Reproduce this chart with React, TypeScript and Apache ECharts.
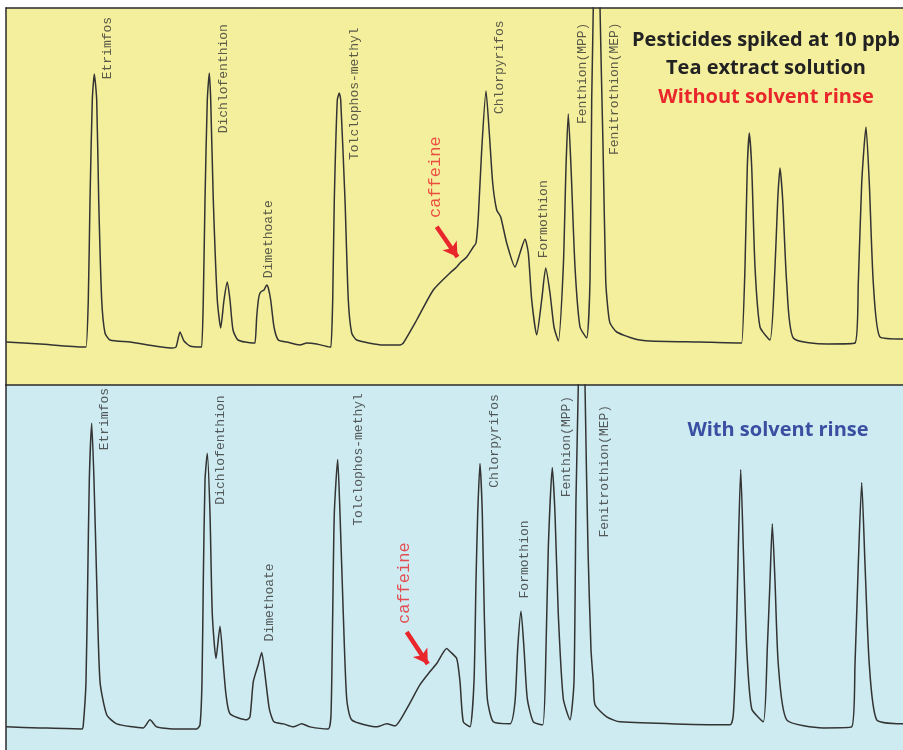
import React, { useEffect, useRef } from "react";
import * as echarts from "echarts";

// Retention position (x) and detector signal (y)
const topTrace: [number, number][] = [
  [6,43],[40,41],[84,38],
  [86,38],[88.3,85],[90,185],[92.3,285],[94.3,311],[96.7,285],[98.7,185],[101.7,85],[105,52],[110,45],[130,43],[172,37],
  [176,38],[180,53],[184,44],[190,39],[200,38],
  [201.7,38],[203.3,85],[205,185],[207.3,285],[209.3,312],[210.7,285],[213.3,185],[217.3,85],[220.7,57],[224,85],[227.3,103],[230,85],[233,55],[238,45],[253,42],
  [255,42],[256.7,68],[258.5,86],[260,92],[262,94],[264,95],[266.7,100],[268.3,97],[270.7,85],[274,58],[278.3,45],[286.7,43],[300,40],[306.7,42],[316.7,41],[330,38],
  [331,38],[332.7,85],[334.3,185],[337.3,285],[339.3,292],[340.7,285],[345,185],[348.3,85],[351.7,52],[356.7,45],[383.3,40],[400,40],
  [403.3,42],[416.7,65],[433.3,95],[450,112],[456.7,118],[460,122],[466.7,128],[473.3,138],[476,142],[478.3,168],[481.7,235],[486,294],[489.3,252],[492.7,202],[496.7,175],[500.7,168],[506.7,142],[515,118],[520,132],[525,146],[528.3,132],[531.7,85],[536.7,50],
  [541.7,85],[545.7,117],[550,92],[554,58],[558.3,44],
  [563.3,118],[566,218],[568.3,271],[571,218],[575,118],[580,58],[586.7,47],
  [590,105],[591.7,285],[593.3,378],[596.5,700],[600,378],[603,240],[605.7,105],[608,75],[610,62],[616.7,53],[635,46],[650,44],[700,43],[739,42],
  [741.7,42],[745,118],[747.3,218],[749.3,252],[751.7,218],[755,118],[760,58],[770,45],
  [775,118],[777.7,185],[780,217],[782.7,185],[786.7,102],[793.3,47],[826.7,41],[855,42],
  [858.3,102],[861.7,202],[866,258],[869.3,202],[873.3,102],[880,48],[903,46],
];

const bottomTrace: [number, number][] = [
  [6,23],[40,22],[82,21],
  [83.3,25],[86,68],[87.7,168],[89.3,268],[91.7,325],[94,268],[96.7,168],[100,68],[106.7,35],[116.7,26],[143.3,22],
  [150,30],[156.7,23],[173.3,21],[196.7,21],
  [200,25],[202,68],[203.3,168],[205,268],[207.3,295],[210,235],[212.3,135],[216,91],[220,123],[223.3,85],[226,55],[230,36],[246.7,30],
  [250,33],[253.3,68],[258.3,85],[261.7,97],[265,75],[269.3,41],[274,28],[283.3,26],[293.3,23],[301.7,26],[310,23],[328.3,21],
  [331,35],[332.7,135],[334.3,235],[337.7,289],[340,235],[343.3,135],[346.7,51],[351.7,30],[376.7,23],[386.7,26],[395,24],
  [406.7,41],[420,65],[430,78],[436.7,86],[446.7,101],[450,98],[456.7,91],[460,68],[463.3,28],[470,23],
  [474,68],[476,168],[477.7,235],[480,285],[482.3,235],[484.3,135],[487.3,51],[493.3,28],[510,26],
  [515,48],[517.7,101],[521,138],[524,101],[527.3,51],[533.3,28],[542.7,25],
  [546,101],[548.3,201],[552.3,281],[555,235],[558.3,135],[563.3,51],[570,30],
  [574,68],[576,250],[578.3,363],[581.7,650],[585,363],[588,200],[591,100],[593.3,68],[595,45],[606.7,33],[620,28],[730,25],
  [733.3,35],[736,101],[738.3,201],[740.7,279],[743.3,201],[746.7,101],[751.7,41],[763.3,28],
  [767.3,101],[770,168],[772.3,225],[775,168],[778.3,85],[786.7,30],[823.3,22],[851.7,23],
  [855,85],[858.3,185],[861.7,266],[865,185],[869.3,85],[876.7,30],[903,26],
];

const peakNames = [
  "Etrimfos",
  "Dichlofenthion",
  "Dimethoate",
  "Tolclophos-methyl",
  "Chlorpyrifos",
  "Formothion",
  "Fenthion(MPP)",
  "Fenitrothion(MEP)",
];
// label anchor (x, y = where the label text begins)
const topLabelX = [107.5, 223.3, 268.3, 354, 499.3, 543.3, 582.3, 614];
const topLabelY = [305.7, 251.7, 106.7, 225, 271, 126.7, 261, 230];
const bottomLabelX = [104.3, 220, 269.3, 358.3, 494, 524, 566, 604.3];
const bottomLabelY = [298, 244, 108, 223, 260.7, 150.7, 251.3, 211.3];

const caffeineName = "caffeine";
const topCaffeine: [number, number] = [435, 167];
const bottomCaffeine: [number, number] = [404.3, 125.3];
const topArrow: [number, number][] = [[436.7, 158.3], [457.5, 128]];
const bottomArrow: [number, number][] = [[406.7, 117.3], [427.8, 85.5]];

const titleLines = ["Pesticides spiked at 10 ppb", "Tea extract solution", "Without solvent rinse"];
const bottomTitle = "With solvent rinse";

const X_MIN = 6;
const X_MAX = 903;
const TOP_MAX = 377;
const BOTTOM_MAX = 363;

export default function App() {
  const ref = useRef<HTMLDivElement>(null);
  useEffect(() => {
    if (!ref.current) return;
    const chart = echarts.init(ref.current, null, { renderer: "svg" });
    const lineColor = "#333333";
    const labelFont = "'Liberation Mono', 'DejaVu Sans Mono', monospace";
    const axisBase = (gridIndex: number) => ({
      gridIndex,
      type: "value",
      min: X_MIN,
      max: X_MAX,
      position: "top",
      axisLine: { show: true, onZero: false, lineStyle: { color: "#2a2a2a", width: 1.5 } },
      axisTick: { show: false },
      axisLabel: { show: false },
      splitLine: { show: false },
    });
    const yBase = (gridIndex: number, max: number) => ({
      gridIndex,
      type: "value",
      min: 0,
      max,
      axisLine: { show: true, onZero: false, lineStyle: { color: "#2a2a2a", width: 1.5 } },
      axisTick: { show: false },
      axisLabel: { show: false },
      splitLine: { show: false },
    });
    const labelSeries = (idx: number, xs: number[], ys: number[]) => ({
      type: "scatter",
      xAxisIndex: idx,
      yAxisIndex: idx,
      symbolSize: 0,
      silent: true,
      data: peakNames.map((n, i) => ({ value: [xs[i], ys[i]], name: n })),
      label: {
        show: true,
        formatter: (p: any) => p.name,
        position: "inside",
        rotate: 90,
        align: "left",
        verticalAlign: "middle",
        fontFamily: labelFont,
        fontSize: 13,
        color: "#333333",
      },
    });
    const caffeineSeries = (idx: number, pt: [number, number]) => ({
      type: "scatter",
      xAxisIndex: idx,
      yAxisIndex: idx,
      symbolSize: 0,
      silent: true,
      data: [{ value: pt, name: caffeineName }],
      label: {
        show: true,
        formatter: (p: any) => p.name,
        position: "inside",
        rotate: 90,
        align: "left",
        verticalAlign: "middle",
        fontFamily: labelFont,
        fontSize: 17,
        color: "#e8262b",
      },
    });
    const arrowLine = (arr: [number, number][]) => ({
      silent: true,
      symbol: ["none", "arrow"],
      symbolSize: [13, 14],
      label: { show: false },
      lineStyle: { color: "#e8262b", width: 4.5, type: "solid" },
      data: [[{ coord: arr[0] }, { coord: arr[1] }]],
    });
    const traceSeries = (idx: number, data: [number, number][], arrow: [number, number][]) => ({
      type: "line",
      xAxisIndex: idx,
      yAxisIndex: idx,
      data,
      showSymbol: false,
      smooth: 0.2,
      clip: true,
      lineStyle: { color: lineColor, width: 1.5, join: "round" },
      markLine: arrowLine(arrow),
      z: 3,
    });
    const titleFont = "bold 20px 'Open Sans', 'Noto Sans', sans-serif";
    chart.setOption({
      animation: false,
      grid: [
        { left: 6, top: 8, width: 897, height: 377, show: true, backgroundColor: "#f4ef9c", borderWidth: 0 },
        { left: 6, top: 385, width: 897, height: 365, show: true, backgroundColor: "#cdebf0", borderWidth: 0 },
      ],
      xAxis: [axisBase(0), axisBase(1)],
      yAxis: [yBase(0, TOP_MAX), yBase(1, BOTTOM_MAX)],
      series: [
        traceSeries(0, topTrace, topArrow),
        traceSeries(1, bottomTrace, bottomArrow),
        labelSeries(0, topLabelX, topLabelY),
        labelSeries(1, bottomLabelX, bottomLabelY),
        caffeineSeries(0, topCaffeine),
        caffeineSeries(1, bottomCaffeine),
      ],
      graphic: [
        ...titleLines.map((t, i) => ({
          type: "text",
          x: 766,
          y: 38 + i * 28.5,
          z: 10,
          style: {
            text: t,
            fill: i === 2 ? "#e8262b" : "#222222",
            font: titleFont,
            textAlign: "center",
            textVerticalAlign: "middle",
          },
        })),
        {
          type: "text",
          x: 778,
          y: 428,
          z: 10,
          style: {
            text: bottomTitle,
            fill: "#3a4ea2",
            font: titleFont,
            textAlign: "center",
            textVerticalAlign: "middle",
          },
        },
      ],
    });
    return () => chart.dispose();
  }, []);
  return (
    <div
      ref={ref}
      style={{ position: "fixed", left: 0, top: 0, width: 903, height: 750 }}
    />
  );
}
